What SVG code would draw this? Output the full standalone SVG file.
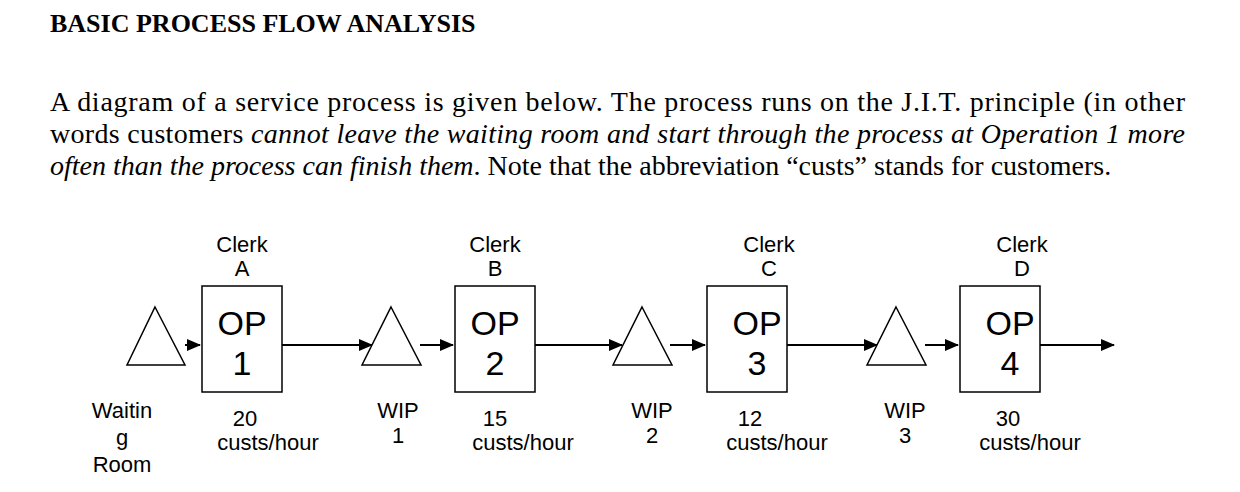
<svg xmlns="http://www.w3.org/2000/svg" width="1240" height="492" viewBox="0 0 1240 492">
<style>
.s{font-family:"Liberation Serif",serif;font-size:28px;fill:#000}
.i{font-style:italic}
.a{font-family:"Liberation Sans",sans-serif;font-size:22px;text-anchor:middle;fill:#000}
.op{font-family:"Liberation Sans",sans-serif;font-size:34px;text-anchor:middle;fill:#000}
.n{fill:#fff;stroke:#000;stroke-width:1.5}
.c{stroke:#000;stroke-width:2;fill:none;marker-end:url(#ah)}
</style>
<defs><marker id="ah" markerWidth="14" markerHeight="12" refX="13" refY="6" orient="auto" markerUnits="userSpaceOnUse"><path d="M0,0L14,6L0,12Z" fill="#000"/></marker></defs>
<rect width="1240" height="492" fill="#fff"/>
<text x="50" y="32" class="s" style="font-weight:bold;font-size:26px">BASIC PROCESS FLOW ANALYSIS</text>
<text x="50" y="111" class="s" textLength="1135" lengthAdjust="spacing">A diagram of a service process is given below.  The process runs on the J.I.T. principle (in other</text>
<text x="50" y="143" class="s" textLength="1135" lengthAdjust="spacing">words customers <tspan class="i">cannot leave the waiting room and start through the process at Operation 1 more</tspan></text>
<text x="50" y="175" class="s"><tspan class="i">often than the process can finish them</tspan>.  Note that the abbreviation “custs” stands for customers.</text>
<g id="connectors">
<path class="c" d="M185,345H200"/><path class="c" d="M282,345H372"/>
<path class="c" d="M420,345H453"/><path class="c" d="M535,345H622"/>
<path class="c" d="M670,345H705"/><path class="c" d="M787,345H877"/>
<path class="c" d="M925,345H958"/><path class="c" d="M1040,345H1114"/>
</g>
<g id="wait"><path class="n" d="M155,307L185,365H127Z"/><text class="a" x="122" y="418">Waitin</text><text class="a" x="122" y="445">g</text><text class="a" x="122" y="472">Room</text></g>
<g id="op1"><rect class="n" x="202" y="286" width="80" height="106"/><text class="a" x="242" y="252">Clerk</text><text class="a" x="242" y="276">A</text><text class="op" x="242" y="335">OP</text><text class="op" x="242" y="375">1</text><text class="a" x="245" y="426">20</text><text class="a" x="268" y="450">custs/hour</text></g>
<g id="wip1"><path class="n" d="M391,307L421,365H362Z"/><text class="a" x="398" y="418">WIP</text><text class="a" x="398" y="443">1</text></g>
<g id="op2"><rect class="n" x="455" y="286" width="80" height="106"/><text class="a" x="495" y="252">Clerk</text><text class="a" x="495" y="276">B</text><text class="op" x="495" y="335">OP</text><text class="op" x="495" y="375">2</text><text class="a" x="495" y="426">15</text><text class="a" x="523" y="450">custs/hour</text></g>
<g id="wip2"><path class="n" d="M642,307L672,365H613Z"/><text class="a" x="652" y="418">WIP</text><text class="a" x="652" y="443">2</text></g>
<g id="op3"><rect class="n" x="707" y="286" width="80" height="106"/><text class="a" x="769" y="252">Clerk</text><text class="a" x="769" y="276">C</text><text class="op" x="757" y="335">OP</text><text class="op" x="757" y="375">3</text><text class="a" x="750" y="426">12</text><text class="a" x="777" y="450">custs/hour</text></g>
<g id="wip3"><path class="n" d="M896,307L926,365H867Z"/><text class="a" x="905" y="418">WIP</text><text class="a" x="905" y="443">3</text></g>
<g id="op4"><rect class="n" x="960" y="286" width="80" height="106"/><text class="a" x="1022" y="252">Clerk</text><text class="a" x="1022" y="276">D</text><text class="op" x="1010" y="335">OP</text><text class="op" x="1010" y="375">4</text><text class="a" x="1008" y="426">30</text><text class="a" x="1030" y="450">custs/hour</text></g>
</svg>
